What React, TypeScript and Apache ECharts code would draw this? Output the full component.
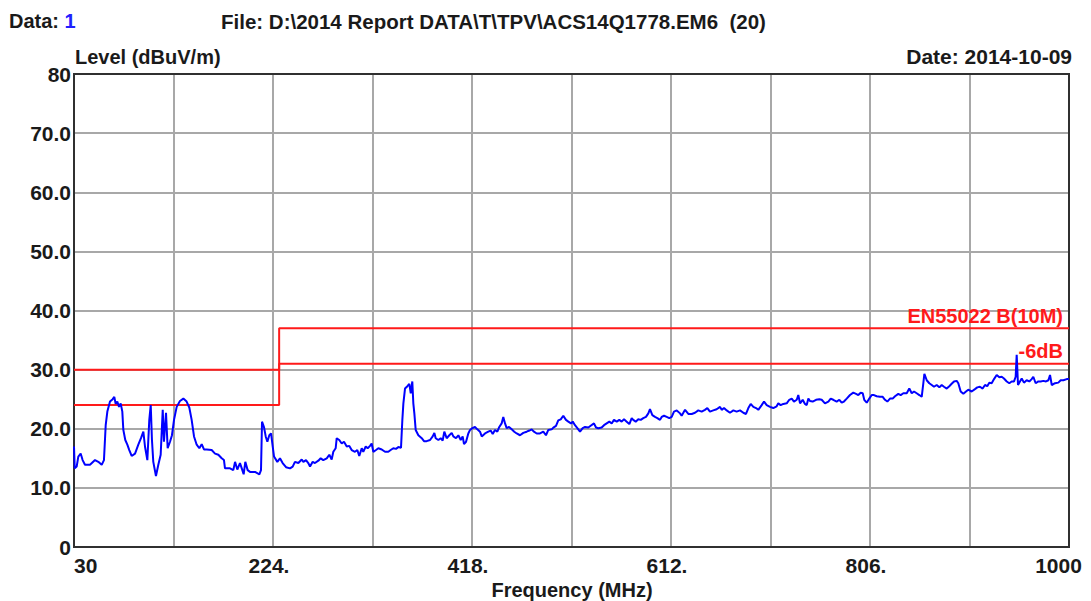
import React, { useEffect, useRef } from "react";
import * as echarts from "echarts";

// ---- Data ----
const xTickLabels: Record<number, string> = { 30: "30", 224: "224.", 418: "418.", 612: "612.", 806: "806.", 1000: "1000" };
const yTickLabels: Record<number, string> = { 0: "0", 10: "10.0", 20: "20.0", 30: "30.0", 40: "40.0", 50: "50.0", 60: "60.0", 70: "70.0", 80: "80" };

const limitFreq = [30, 230, 230, 1000];
const limitLevel = [30, 30, 37, 37]; // EN55022 B (10M)
const marginLevel = [24, 24, 31, 31]; // -6dB

// Measured trace [MHz, dBuV/m]
const traceSeg1: [number, number][] = [
  [30, 17.0], [30.7, 13.3], [32.6, 13.6], [34.2, 15.3], [36.5, 15.8], [38.4, 14.7], [40.7, 13.9], [45.6, 13.9], [50.5, 14.7], [53.7, 14.4],
  [57, 13.9], [59.2, 14.7], [60.9, 20.6], [62.5, 22.9], [65.1, 24.6], [67.7, 25.0], [69.3, 25.4], [70.6, 24.2], [72.2, 24.6], [73.9, 23.7],
  [75.5, 24.3], [77.1, 22.9], [78.1, 19.8], [80, 18.1], [82, 17.3], [83.9, 16.4], [86.2, 15.4], [89.5, 15.8], [92.7, 17.3], [95.3, 18.4],
  [97.6, 19.5], [99.2, 17.0], [101.5, 14.7], [103.4, 21.5], [104.8, 24.0], [106, 18.1], [107.3, 14.4], [109.9, 12.0], [112.2, 13.9], [114.5, 15.6],
  [116.5, 23.2], [117.7, 17.8], [119.7, 22.7], [121.3, 16.7], [123.6, 17.8], [125.5, 18.9], [127.5, 21.5], [130.1, 23.7], [133.3, 24.7], [136.6, 25.1],
  [139.8, 24.6], [142.4, 23.6], [144.7, 21.5], [147, 18.7], [149.6, 17.3], [152.2, 16.7], [154.5, 17.4], [156.7, 16.5], [159.4, 16.5], [164.2, 16.4],
  [167.5, 15.8], [170.7, 15.6], [174, 15.0], [176.2, 14.7], [177.2, 13.3], [182.1, 13.3], [185.3, 13.0], [187, 14.4], [189.2, 13.1], [191.8, 14.2],
  [194.1, 13.0], [195.4, 12.3], [197, 14.4], [199.3, 13.0], [201.6, 12.7], [206.5, 12.7], [210.7, 12.3], [212.3, 13.0], [213.3, 21.2], [215.2, 20.3],
  [216.9, 18.7], [218.5, 17.8], [220.4, 18.9], [222.1, 19.2], [223.7, 17.0],
];
const traceSeg2: [number, number][] = [
  [225.0, 15.3], [228.2, 14.4], [230.8, 15.0], [233.4, 14.2], [236.7, 13.5], [240.6, 13.3], [243.2, 13.6], [245.4, 14.4], [248.7, 14.2], [252.0, 14.8],
  [253.6, 14.4], [256.2, 14.7], [258.4, 14.2], [260.1, 13.6], [262.7, 14.4], [264.9, 14.2], [268.2, 14.6], [270.5, 15.0], [273.0, 14.7], [276.4, 15.0],
  [278.9, 15.6], [281.2, 14.8], [282.8, 16.1], [285.1, 16.7], [286.1, 18.4], [288.6, 18.1], [291.0, 17.5], [293.2, 17.8], [295.9, 17.0], [298.4, 17.1],
  [300.7, 16.4], [303.9, 16.1], [306.2, 16.4], [308.1, 15.4], [310.5, 16.7], [312.0, 16.1], [314.4, 17.0], [316.3, 16.7], [318.6, 17.1], [320.2, 17.5],
  [321.8, 16.1], [324.4, 16.4], [326.7, 16.7], [330.0, 16.5], [333.2, 16.1], [336.4, 16.1], [338.7, 16.4], [341.3, 16.7], [343.9, 16.6], [346.2, 16.9],
  [348.8, 16.8], [350.1, 21.5], [351.1, 24.3], [352.7, 26.8], [355.0, 27.2], [356.9, 27.6], [358.3, 26.0], [359.8, 28.0], [360.8, 24.3], [361.8, 22.6],
  [363.1, 19.8], [365.7, 18.9], [369.0, 18.4], [371.2, 17.9], [373.8, 17.9], [377.1, 18.1], [379.7, 18.7], [381.3, 19.3], [382.6, 18.4], [385.2, 18.1],
  [387.5, 18.4], [389.4, 18.0], [391.0, 19.5], [393.3, 18.4], [395.9, 18.9], [398.2, 19.3], [399.8, 18.7], [402.4, 18.4], [404.7, 18.9], [407.0, 18.1],
  [408.9, 18.7], [410.2, 17.4], [412.2, 17.8], [414.4, 19.2], [416.1, 19.8], [418.3, 20.1], [420.9, 20.3], [423.2, 19.9], [425.8, 19.5],
];
const traceSeg3: [number, number][] = [
  [427.5, 18.7], [430.7, 19.2], [433.9, 19.5], [436.2, 19.7], [438.2, 19.1], [440.4, 19.8], [442.7, 19.5], [444.6, 20.3], [446.9, 20.9], [448.5, 22.0],
  [450.2, 20.9], [451.8, 20.1], [454.1, 20.3], [456.7, 19.9], [459.2, 19.5], [461.6, 19.2], [464.8, 18.9], [468.0, 19.3], [471.3, 19.5], [473.9, 19.7],
  [476.2, 19.9], [478.4, 19.5], [481.1, 19.2], [484.3, 19.2], [487.5, 19.5], [490.1, 18.9], [492.4, 19.8], [495.7, 19.9], [497.3, 20.2], [499.9, 20.5],
  [502.1, 21.4], [504.5, 21.6], [507.0, 22.2], [509.6, 21.5], [511.9, 21.2], [514.5, 20.9], [516.2, 21.2], [518.4, 20.6], [520.7, 20.1], [523.3, 19.5],
  [525.9, 20.1], [528.2, 20.3], [531.4, 20.2], [533.7, 20.5], [536.9, 20.9], [538.9, 20.2], [541.1, 20.1], [544.4, 20.2], [546.7, 20.6], [549.3, 20.9],
  [551.9, 21.2], [554.2, 20.9], [556.4, 21.5], [559.1, 21.2], [561.6, 21.5], [563.9, 21.2], [566.2, 21.6], [568.8, 21.2], [571.4, 20.8], [573.7, 21.8],
  [575.2, 21.5], [577.6, 21.2], [580.1, 21.6], [582.5, 21.5], [585.0, 21.8], [587.6, 22.0], [589.9, 22.6], [591.5, 23.3], [593.8, 22.3], [596.4, 22.0],
  [598.7, 21.8], [601.3, 21.5], [602.9, 22.0], [605.2, 22.2], [607.8, 22.0], [610.3, 21.8], [612.7, 22.0], [614.9, 22.9], [617.6, 23.1], [620.8, 22.6],
];
const traceSeg4: [number, number][] = [
  [622.4, 22.2], [625.7, 23.2], [628.9, 22.5], [632.2, 22.5], [635.4, 22.7], [638.6, 23.1], [641.9, 22.9], [645.1, 23.2], [647.4, 23.5], [650.0, 22.9],
  [653.2, 23.1], [656.5, 23.3], [659.8, 23.7], [661.4, 23.2], [663.7, 23.5], [666.3, 23.1], [669.5, 22.7], [672.8, 23.1], [676.0, 22.9], [679.3, 23.1],
  [682.5, 22.7], [685.1, 22.5], [687.4, 23.5], [689.7, 24.2], [692.3, 23.7], [694.9, 23.5], [697.1, 23.2], [700.4, 24.0], [702.7, 24.6], [705.3, 24.0],
  [708.5, 23.7], [711.7, 23.5], [715.0, 23.8], [716.6, 24.3], [718.9, 24.0], [721.5, 24.2], [724.8, 24.3], [727.3, 24.9], [729.7, 25.1], [731.9, 24.6],
  [734.6, 24.9], [736.1, 25.7], [737.8, 24.3], [740.4, 24.9], [742.6, 24.2], [744.3, 24.0], [745.9, 25.1], [747.5, 24.7], [750.1, 24.6], [753.4, 24.9],
  [756.6, 25.0], [758.9, 24.9], [762.1, 24.3], [765.4, 24.6], [767.7, 25.1], [770.2, 24.9], [773.5, 24.6], [776.1, 24.9], [778.4, 24.4], [780.6, 24.6],
  [783.3, 25.1], [786.5, 25.7], [789.7, 26.1], [792.4, 25.9], [794.6, 25.7], [796.9, 26.1], [798.9, 26.0], [800.4, 24.9], [802.8, 24.4], [805.3, 25.1],
  [807.7, 25.7], [809.9, 25.7], [812.5, 25.5], [815.7, 25.4],
];
const traceSeg5: [number, number][] = [
  [818.4, 25.4], [820.6, 24.9], [822.9, 24.6], [825.5, 25.1], [828.1, 25.1], [830.4, 25.5], [833.6, 25.9], [835.9, 25.7], [838.5, 26.0], [841.8, 26.0],
  [844.3, 26.8], [846.7, 26.0], [848.9, 26.3], [851.5, 26.0], [854.1, 25.7], [856.4, 25.4], [858.0, 27.7], [859.0, 29.3], [861.3, 28.2], [863.8, 27.7],
  [866.2, 27.4], [868.4, 27.1], [871.0, 27.4], [873.6, 27.0], [875.9, 27.4], [878.1, 27.1], [880.8, 26.8], [883.3, 27.2], [885.6, 27.6], [887.9, 28.0],
  [890.5, 28.1], [892.1, 27.7], [894.4, 26.3], [897.0, 25.9], [899.6, 26.3], [901.8, 26.6], [905.1, 26.3], [908.3, 26.7], [910.6, 27.0], [913.2, 27.1],
  [915.8, 26.8], [918.1, 27.4], [920.3, 27.2], [922.3, 27.8], [924.6, 27.7], [926.9, 28.4], [929.5, 29.1], [932.1, 28.7], [934.4, 28.8], [936.6, 28.5],
  [939.3, 28.0], [941.8, 27.7], [944.1, 28.0], [946.4, 28.0], [948.0, 28.8], [949.0, 32.5], [950.3, 27.4], [952.2, 28.0], [953.9, 28.5], [956.1, 27.8],
  [958.7, 28.2], [961.3, 28.0], [963.6, 28.4], [965.2, 28.8], [967.5, 27.7], [970.1, 28.0], [972.4, 28.0], [975.0, 28.1], [977.6, 28.0], [979.9, 28.2],
  [981.5, 29.1], [983.2, 27.4], [986.4, 27.7], [989.6, 27.8], [991.9, 28.2], [994.5, 28.2], [997.8, 28.4], [1000, 28.4],
];

const FONT = '"Liberation Sans", Arial, Helvetica, sans-serif';
const TEXT = "#1a1a1a";

export default function App() {
  const ref = useRef<HTMLDivElement>(null);
  useEffect(() => {
    document.body.style.margin = "0";
    document.body.style.overflow = "hidden";
    const chart = echarts.init(ref.current!, null, { renderer: "svg" });
    const trace = [...traceSeg1, ...traceSeg2, ...traceSeg3, ...traceSeg4, ...traceSeg5];
    const limit = limitFreq.map((f, i) => [f, limitLevel[i]]);
    const margin = limitFreq.map((f, i) => [f, marginLevel[i]]);
    const labelStyle = { fontFamily: FONT, fontWeight: "bold", fontSize: 21, color: TEXT };
    chart.setOption({
      animation: false,
      backgroundColor: "#ffffff",
      grid: { left: 74, right: 22, top: 74, bottom: 54, show: true, borderColor: "#303030", borderWidth: 2, backgroundColor: "transparent", z: 3 },
      xAxis: {
        type: "value",
        min: 30,
        max: 1000,
        interval: 97,
        axisLine: { show: false },
        axisTick: { show: false },
        splitLine: { show: true, lineStyle: { color: "#a8a8a8", width: 2 } },
        axisLabel: {
          margin: 8,
          ...labelStyle,
          alignMinLabel: "left",
          formatter: (v: number) => {
            const k = Math.round(v);
            const t = xTickLabels[k];
            if (!t) return "";
            if (k === 1000) return "{r|" + t + "}";
            if (k === 30) return t;
            return "{m|" + t + "}";
          },
          rich: {
            r: { ...labelStyle, padding: [0, 21, 0, 0] },
            m: { ...labelStyle, padding: [0, 8, 0, 0] },
          },
        },
      },
      yAxis: {
        type: "value",
        min: 0,
        max: 80,
        interval: 10,
        axisLine: { show: false },
        axisTick: { show: false },
        splitLine: { show: true, lineStyle: { color: "#a8a8a8", width: 2 } },
        axisLabel: {
          margin: 3,
          ...labelStyle,
          formatter: (v: number) => yTickLabels[Math.round(v)] ?? "",
        },
      },
      series: [
        { type: "line", data: limit, symbol: "none", lineStyle: { color: "#ff1a1a", width: 2 }, z: 4, silent: true },
        { type: "line", data: margin, symbol: "none", lineStyle: { color: "#ff1a1a", width: 2 }, z: 4, silent: true },
        { type: "line", data: trace, symbol: "none", lineStyle: { color: "#0000ff", width: 2 }, z: 5, silent: true },
      ],
      graphic: [
        {
          type: "text", x: 9, y: 21,
          style: {
            text: "{a|Data: }{b|1}", verticalAlign: "middle",
            rich: {
              a: { fontFamily: FONT, fontWeight: "bold", fontSize: 20, fill: TEXT },
              b: { fontFamily: FONT, fontWeight: "bold", fontSize: 20, fill: "#2020ff" },
            },
          },
        },
        { type: "text", x: 221, y: 21, style: { text: "File: D:\\2014 Report DATA\\T\\TPV\\ACS14Q1778.EM6  (20)", fontFamily: FONT, fontWeight: "bold", fontSize: 20.5, fill: TEXT, verticalAlign: "middle" } },
        { type: "text", x: 75, y: 57, style: { text: "Level (dBuV/m)", fontFamily: FONT, fontWeight: "bold", fontSize: 20, fill: TEXT, verticalAlign: "middle" } },
        { type: "text", x: 1072, y: 56, style: { text: "Date: 2014-10-09", fontFamily: FONT, fontWeight: "bold", fontSize: 21, fill: TEXT, align: "right", verticalAlign: "middle" } },
        { type: "text", x: 572, y: 590, style: { text: "Frequency (MHz)", fontFamily: FONT, fontWeight: "bold", fontSize: 20, fill: TEXT, align: "center", verticalAlign: "middle" } },
        { type: "text", x: 1063, y: 316, z: 10, style: { text: "EN55022 B(10M)", fontFamily: FONT, fontWeight: "bold", fontSize: 20, fill: "#ff1a1a", align: "right", verticalAlign: "middle" } },
        { type: "text", x: 1063, y: 351, z: 10, style: { text: "-6dB", fontFamily: FONT, fontWeight: "bold", fontSize: 20, fill: "#ff1a1a", align: "right", verticalAlign: "middle" } },
      ],
    });
    return () => chart.dispose();
  }, []);
  return <div ref={ref} style={{ width: 1091, height: 601 }} />;
}
